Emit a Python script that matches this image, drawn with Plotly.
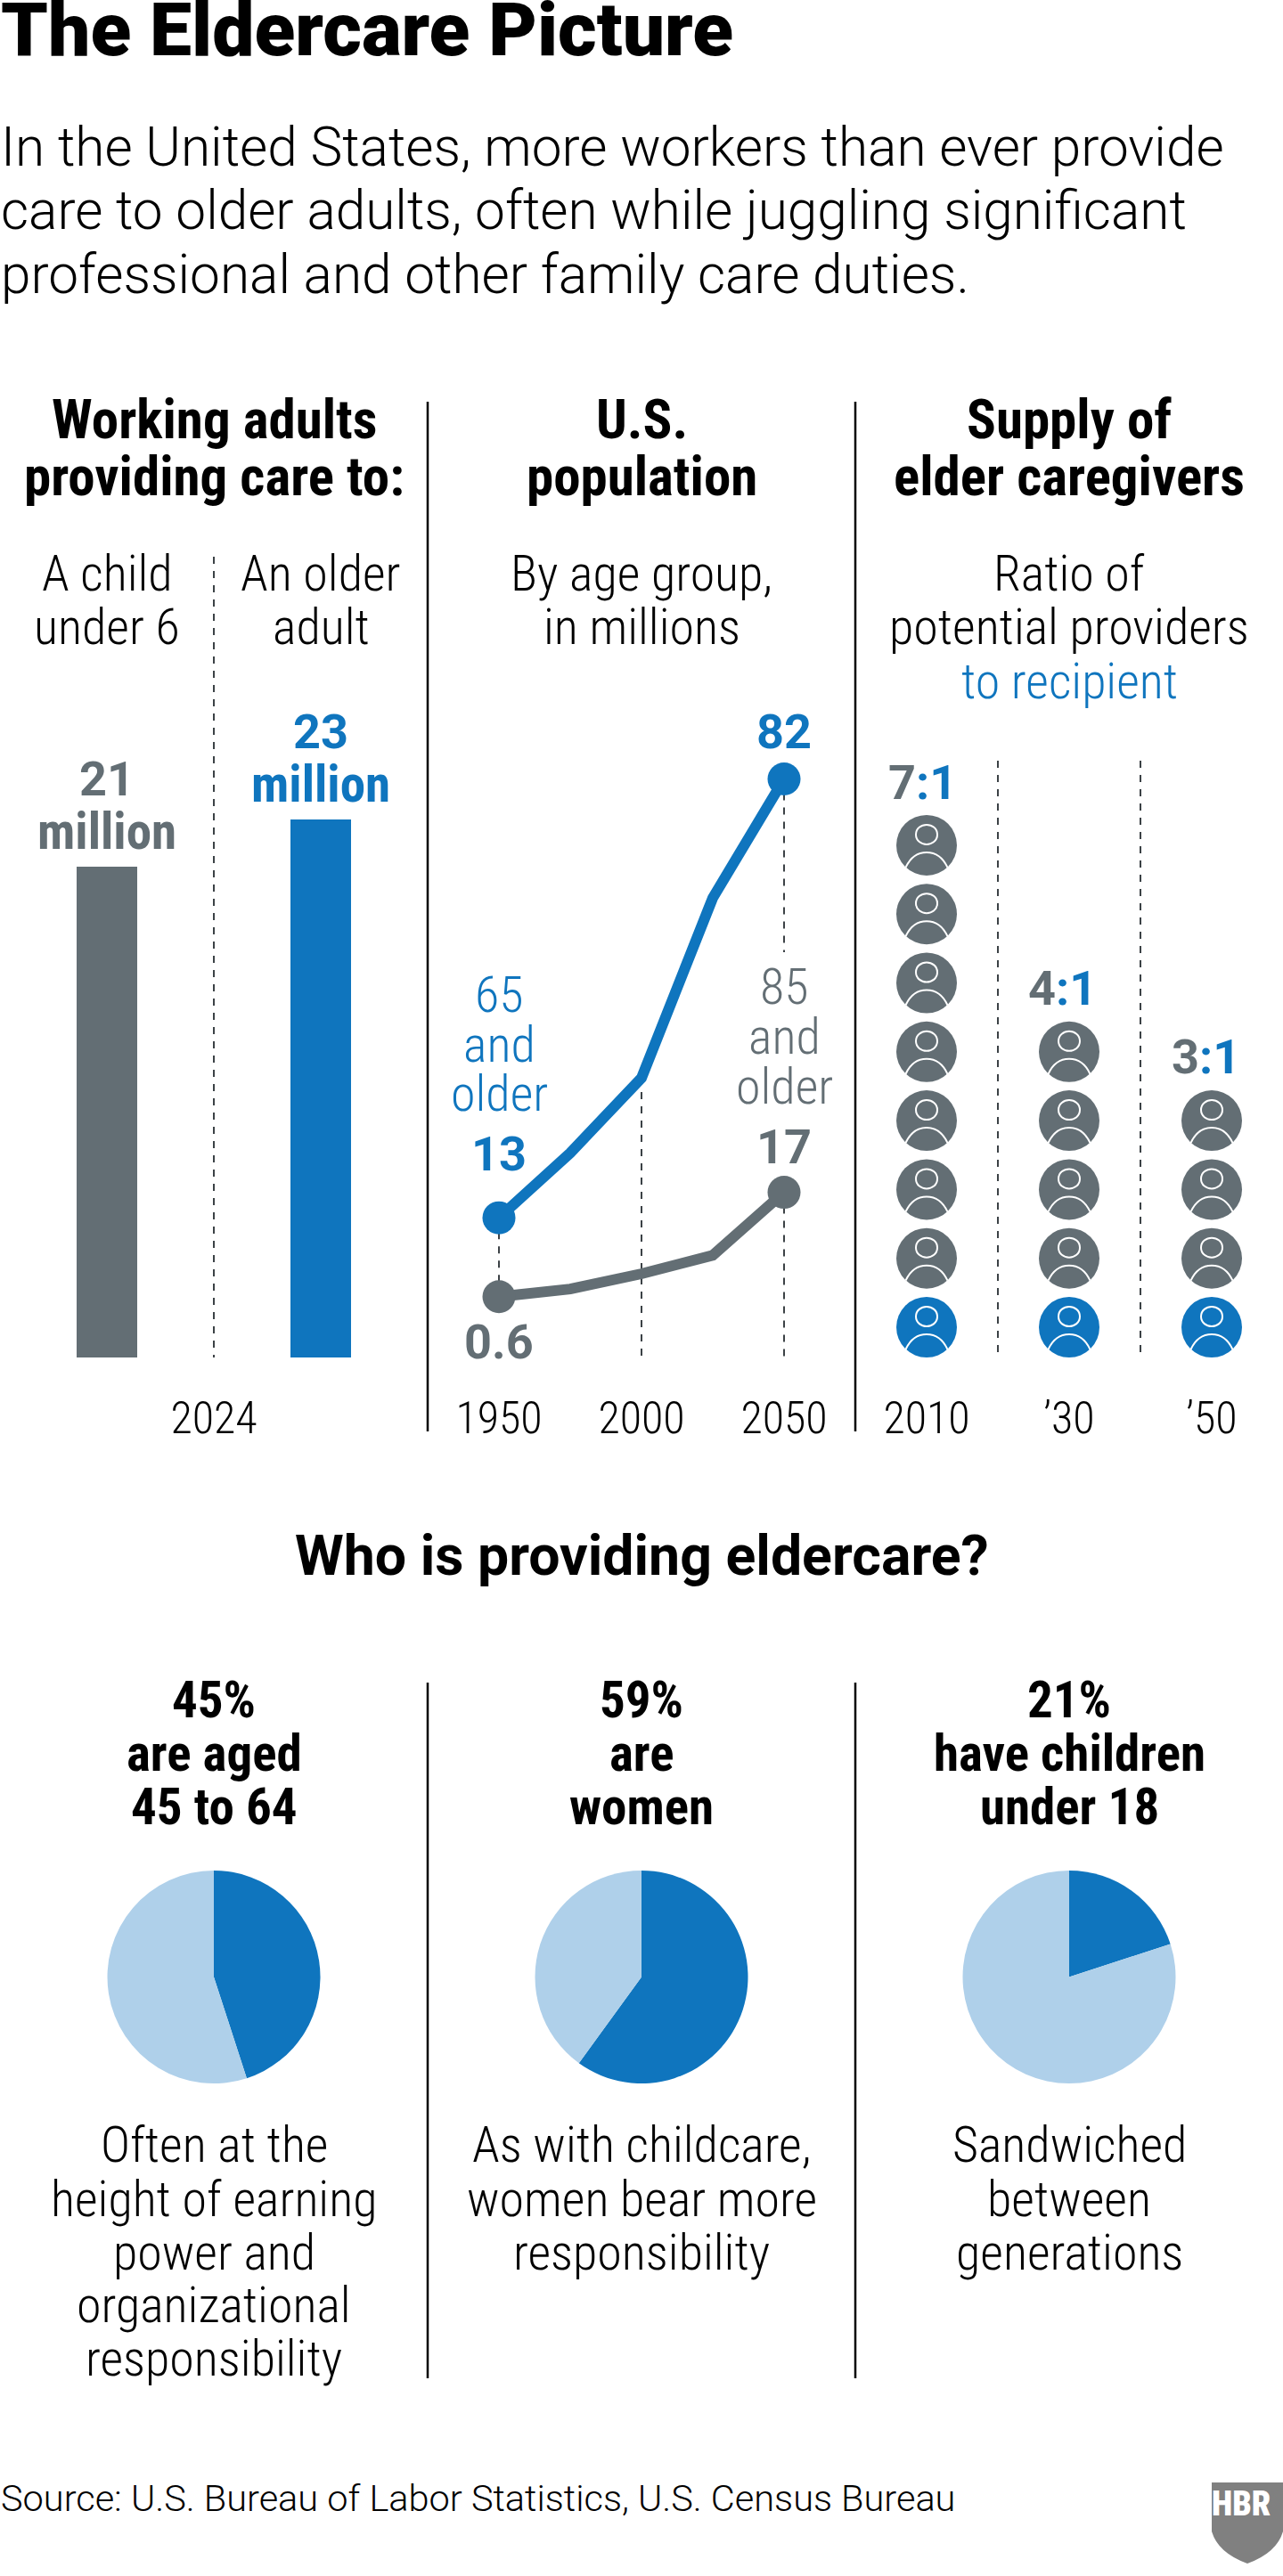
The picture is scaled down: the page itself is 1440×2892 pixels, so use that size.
import plotly.graph_objects as go

W, H = 1440, 2892
GRAY = "#636e74"
BLUE = "#0f75be"
LIGHT = "#afd0ea"
BLACK = "#000000"
DASH = "#3c4246"
COND = "Roboto Condensed"
ROBOTO = "Roboto"

# ---- data ----
care_labels = ["A child under 6", "An older adult"]
care_values = [21, 23]
care_tick = ["2024"]

years = [1950, 1975, 2000, 2025, 2050]
age65 = [13, 23.2, 35, 63.3, 82]
age85 = [0.6, 1.8, 4.2, 7.1, 17]
pop_ticks = [1950, 2000, 2050]

ratio_years = ["2010", "’30", "’50"]
ratio_providers = [7, 4, 3]

pie_groups = ["are aged 45 to 64", "are women", "have children under 18"]
pie_share = [45, 60, 20]

fig = go.Figure()


def px(x):
    return x / W


def py(y):
    return 1 - y / H


def xdom(a, b):
    return [a / W, b / W]


def ydom(top, bottom):
    return [1 - bottom / H, 1 - top / H]


AXIS_BOTTOM = 1558
TICKFONT = dict(family=COND, size=50, color=BLACK, weight=300)


def x_axis(dom, rng, tickvals, ticktext, anchor):
    return dict(domain=xdom(*dom), range=rng, tickvals=tickvals, ticktext=ticktext,
                tickfont=TICKFONT, showgrid=False, zeroline=False, showline=False,
                ticks="", anchor=anchor, fixedrange=True, tickangle=0)


def y_axis(top, bottom, rng, anchor):
    return dict(domain=ydom(top, bottom), range=rng, visible=False, showgrid=False,
                zeroline=False, anchor=anchor, fixedrange=True)


# panel 1: bars. 0 at y=1524, 26.24 px per million
s1 = 26.24
fig.add_trace(go.Bar(x=[0, 1], y=care_values, width=68 / 240, marker=dict(color=[GRAY, BLUE], line_width=0),
                     xaxis="x", yaxis="y", hoverinfo="skip", showlegend=False))
# panel 2: lines. 0 at y=1460, 7.14 px per million
s2 = 7.14
dash_line = dict(color=DASH, width=2, dash="8px,8px")
fig.add_trace(go.Scatter(x=[years[0], years[0]], y=[age65[0], age85[0]], mode="lines", line=dash_line,
                         xaxis="x2", yaxis="y2", hoverinfo="skip", showlegend=False))
fig.add_trace(go.Scatter(x=[years[2], years[2]], y=[age65[2], (1460 - 1524) / s2], mode="lines", line=dash_line,
                         xaxis="x2", yaxis="y2", hoverinfo="skip", showlegend=False))
fig.add_trace(go.Scatter(x=[years[4], years[4]], y=[age65[4], (1460 - 1069) / s2], mode="lines", line=dash_line,
                         xaxis="x2", yaxis="y2", hoverinfo="skip", showlegend=False))
fig.add_trace(go.Scatter(x=[years[4], years[4]], y=[age85[4], (1460 - 1524) / s2], mode="lines", line=dash_line,
                         xaxis="x2", yaxis="y2", hoverinfo="skip", showlegend=False))
dot_sizes = [37, 0, 0, 0, 37]
fig.add_trace(go.Scatter(x=years, y=age85, mode="lines+markers", line=dict(color=GRAY, width=12),
                         marker=dict(color=GRAY, size=dot_sizes, line_width=0, opacity=1),
                         xaxis="x2", yaxis="y2", hoverinfo="skip", showlegend=False))
fig.add_trace(go.Scatter(x=years, y=age65, mode="lines+markers", line=dict(color=BLUE, width=12),
                         marker=dict(color=BLUE, size=dot_sizes, line_width=0, opacity=1),
                         xaxis="x2", yaxis="y2", hoverinfo="skip", showlegend=False))

# panel 3: icons. bottom icon at y=1490, 77.3 px per person
s3 = 77.3
shapes = []
for i, n in enumerate(ratio_providers):
    ys = list(range(n + 1))
    colors = [BLUE] + [GRAY] * n
    fig.add_trace(go.Scatter(x=[i] * (n + 1), y=ys, mode="markers",
                             marker=dict(color=colors, size=68, line_width=0, opacity=1),
                             xaxis="x3", yaxis="y3", hoverinfo="skip", showlegend=False))
    for j in ys:
        common = dict(type="path", xref="x3", yref="y3", xsizemode="pixel", ysizemode="pixel",
                      xanchor=i, yanchor=j, line=dict(color="white", width=2), layer="above")
        head = "M -12 12 C -12 5 -6 1 0 1 C 6 1 12 5 12 12 C 12 19 6 23 0 23 C -6 23 -12 19 -12 12 Z"
        body = "M -23.5 -25 C -18 -13 -9 -8 0 -8 C 9 -8 18 -13 23.5 -25"
        shapes.append(dict(path=head, **common))
        shapes.append(dict(path=body, **common))

# separators and dashes
for a, b in [(451, 1607), (1889, 2670)]:
    for x in (480, 960):
        shapes.append(dict(type="line", xref="paper", yref="paper", x0=px(x), x1=px(x), y0=py(a), y1=py(b),
                           line=dict(color=BLACK, width=2.5)))
shapes.append(dict(type="line", xref="paper", yref="paper", x0=px(240), x1=px(240), y0=py(625), y1=py(1524),
                   line=dict(color=DASH, width=2, dash="8px,8px")))
for x in (1120, 1280):
    shapes.append(dict(type="line", xref="paper", yref="paper", x0=px(x), x1=px(x), y0=py(854), y1=py(1519),
                       line=dict(color=DASH, width=2, dash="8px,8px")))
# HBR badge
shield = (f"M {px(1360)} {py(2787)} L {px(1440)} {py(2787)} L {px(1440)} {py(2842)} "
          f"Q {px(1433)} {py(2866)} {px(1400)} {py(2878)} Q {px(1367)} {py(2866)} {px(1360)} {py(2842)} Z")
shapes.append(dict(type="path", xref="paper", yref="paper", path=shield, fillcolor="#808080", line_width=0,
                   layer="below"))

# pies
for i, (g, v) in enumerate(zip(pie_groups, pie_share)):
    cx = 240 + 480 * i
    r = 119.5
    fig.add_trace(go.Pie(labels=[g, "other"], values=[v, 100 - v], sort=False, direction="clockwise", rotation=0,
                         marker=dict(colors=[BLUE, LIGHT], line_width=0), textinfo="none",
                         hoverinfo="skip", showlegend=False,
                         domain=dict(x=xdom(cx - r, cx + r), y=ydom(2219.5 - r, 2219.5 + r))))

anns = []


def T(x, base, text, size, color=BLACK, weight=300, anchor="center", family=COND):
    anns.append(dict(x=px(x), y=py(base - 0.32 * size), xref="paper", yref="paper", text=text, showarrow=False,
                     xanchor=anchor, yanchor="middle", borderpad=0,
                     font=dict(family=family, size=size, color=color, weight=weight)))


T(0, 60, "The Eldercare Picture", 84, anchor="left", weight=900, family=ROBOTO)
for b, t in zip((185, 256, 328), ("In the United States, more workers than ever provide",
                                  "care to older adults, often while juggling significant",
                                  "professional and other family care duties.")):
    T(0, b, t, 60.3, anchor="left", family=ROBOTO)

H1 = 61
for x, lines in ((240, ("Working adults", "providing care to:")), (720, ("U.S.", "population")),
                 (1200, ("Supply of", "elder caregivers"))):
    for b, t in zip((491, 555), lines):
        T(x, b, t, H1, weight=700)

S1 = 56
for x, lines in ((120, ("A child", "under 6")), (360, ("An older", "adult")), (720, ("By age group,", "in millions")),
                 (1200, ("Ratio of", "potential providers"))):
    for b, t in zip((662, 722), lines):
        T(x, b, t, S1)
T(1200, 783, "to recipient", S1, color=BLUE)

# value labels
V = 54
M = 57
T(120, 892, "21", V, GRAY, 700, family=ROBOTO)
T(120, 952, "million", M, GRAY, 700)
T(360, 839, "23", V, BLUE, 700, family=ROBOTO)
T(360, 899, "million", M, BLUE, 700)
T(880, 839, "82", V, BLUE, 700, family=ROBOTO)
T(560, 1313, "13", V, BLUE, 700, family=ROBOTO)
T(880, 1305, "17", V, GRAY, 700, family=ROBOTO)
T(560, 1524, "0.6", V, GRAY, 700, family=ROBOTO)
for b, t in zip((1135, 1191, 1246), ("65", "and", "older")):
    T(560, b, t, S1, BLUE)
for b, t in zip((1126, 1182, 1238), ("85", "and", "older")):
    T(880, b, t, S1, GRAY)
for x, b, n in ((1035, 896, 7), (1192, 1127, 4), (1353, 1204, 3)):
    T(x, b, f'<span style="color:{GRAY}">{n}</span><span style="color:{BLUE}">:1</span>', V, BLUE, 700, family=ROBOTO)

T(720, 1767, "Who is providing eldercare?", 62.6, weight=700, family=ROBOTO)

P = 57
for x, lines in ((240, ("45%", "are aged", "45 to 64")), (720, ("59%", "are", "women")),
                 (1200, ("21%", "have children", "under 18"))):
    for b, t in zip((1927, 1987, 2047), lines):
        T(x, b, t, P, weight=700)
for x, lines in ((240, ("Often at the", "height of earning", "power and", "organizational", "responsibility")),
                 (720, ("As with childcare,", "women bear more", "responsibility")),
                 (1200, ("Sandwiched", "between", "generations"))):
    for b, t in zip((2426, 2487, 2547, 2606, 2666), lines):
        T(x, b, t, 56)
T(0, 2818, "Source: U.S. Bureau of Labor Statistics, U.S. Census Bureau", 41.5, anchor="left", family=ROBOTO)
T(1393, 2823, "HBR", 38, "white", 900)

fig.update_layout(
    width=W, height=H, margin=dict(l=0, r=0, t=0, b=0), paper_bgcolor="white", plot_bgcolor="rgba(0,0,0,0)",
    showlegend=False, shapes=shapes, annotations=anns, bargap=0,
    xaxis=x_axis((0, 480), [-0.5, 1.5], [0.5], care_tick, "y"),
    yaxis=y_axis(451, AXIS_BOTTOM, [(1524 - AXIS_BOTTOM) / s1, (1524 - 451) / s1], "x"),
    xaxis2=x_axis((480, 960), [1925, 2075], pop_ticks, [str(t) for t in pop_ticks], "y2"),
    yaxis2=y_axis(451, AXIS_BOTTOM, [(1460 - AXIS_BOTTOM) / s2, (1460 - 451) / s2], "x2"),
    xaxis3=x_axis((960, 1440), [-0.5, 2.5], [0, 1, 2], ratio_years, "y3"),
    yaxis3=y_axis(451, AXIS_BOTTOM, [(1490 - AXIS_BOTTOM) / s3, (1490 - 451) / s3], "x3"),
)

fig.write_html("out.html", config=dict(displayModeBar=False), post_script="document.body.style.margin='0';")
